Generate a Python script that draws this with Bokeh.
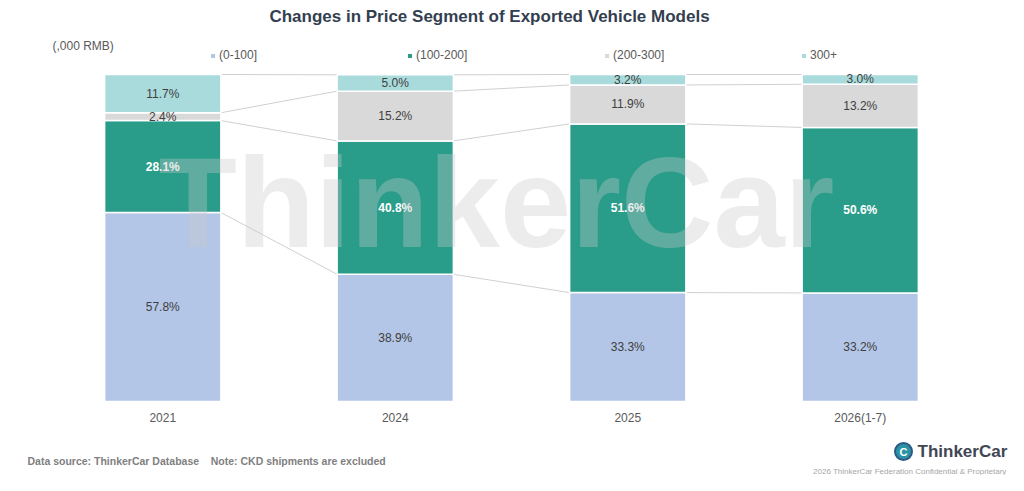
from bokeh.plotting import figure
from bokeh.models import ColumnDataSource, Range1d, FactorRange, Label
from bokeh.transform import dodge
from bokeh.core.properties import value
from bokeh.embed import file_html
from bokeh.resources import INLINE

# Données (part en %)
years = ["2021", "2024", "2025", "2026(1-7)"]
seg_0_100 = [57.8, 38.9, 33.3, 33.2]
seg_100_200 = [28.1, 40.8, 51.6, 50.6]
seg_200_300 = [2.4, 15.2, 11.9, 13.2]
seg_300 = [11.7, 5.0, 3.2, 3.0]
seg_names = ["(0-100]", "(100-200]", "(200-300]", "300+"]
colors = ["#b4c6e7", "#2a9d8a", "#d9d9d9", "#a9dbdc"]

FONT = "Liberation Sans"
W, H = 1008, 475
LEFT = 14
PAD = 0.1376
UNIT = (W - LEFT) / (4 + 2 * PAD)
PXY = 3.27  # pixels par point de %


# conversion pixel -> coordonnées
def X(px):
    return -PAD + (px - LEFT) / UNIT


def Y(py):
    return 100 - (py - 74) / PXY


keys = ["s0", "s1", "s2", "s3"]
series = [seg_0_100, seg_100_200, seg_200_300, seg_300]
source = ColumnDataSource(data=dict(year=years, s0=seg_0_100, s1=seg_100_200,
                                    s2=seg_200_300, s3=seg_300))

p = figure(x_range=FactorRange(*years, range_padding=PAD, range_padding_units="absolute"),
           y_range=Range1d(Y(H), Y(0)), width=W, height=H,
           x_axis_location=None, y_axis_location=None,
           output_backend="svg", toolbar_location=None,
           min_border_left=LEFT, min_border_right=0, min_border_top=0, min_border_bottom=0)
p.outline_line_color = None
p.grid.grid_line_color = None

# lignes de liaison entre les barres
cum = []
run = [0.0] * len(years)
for s in series:
    run = [a + b for a, b in zip(run, s)]
    cum.append(run)
seg_x0, seg_x1, seg_y0, seg_y1 = [], [], [], []
for c in cum:
    for i in range(len(years) - 1):
        seg_x0.append(years[i])
        seg_x1.append(years[i + 1])
        seg_y0.append(c[i])
        seg_y1.append(c[i + 1])
links = ColumnDataSource(data=dict(x0=seg_x0, x1=seg_x1, y0=seg_y0, y1=seg_y1))
p.segment(x0=dodge("x0", 0.25, range=p.x_range), y0="y0",
          x1=dodge("x1", -0.25, range=p.x_range), y1="y1",
          source=links, line_color="#d0d0d0", line_width=1)

p.vbar_stack(keys, x="year", width=0.5, color=colors, source=source,
             line_color="white", line_width=1.5, legend_label=seg_names)

# étiquettes des segments
lx, ly, lt, wx, wy, wt = [], [], [], [], [], []
base = [0.0] * len(years)
for k, s in enumerate(series):
    for i, v in enumerate(s):
        mid = base[i] + v / 2
        if k == 1:
            wx.append(years[i]); wy.append(mid); wt.append(f"{v:.1f}%")
        else:
            lx.append(years[i]); ly.append(mid); lt.append(f"{v:.1f}%")
    base = [a + b for a, b in zip(base, s)]
p.text(x=lx, y=ly, text=lt, text_align="center", text_baseline="middle",
       text_font=value(FONT), text_font_size="12px", text_color="#404040")
p.text(x=wx, y=wy, text=wt, text_align="center", text_baseline="middle",
       text_font=value(FONT), text_font_size="12px", text_font_style="bold",
       text_color="white")

# libellés des années
p.text(x=years, y=[Y(417)] * len(years), text=years, text_align="center",
       text_baseline="middle", text_font=value(FONT), text_font_size="12px",
       text_color="#595959")

# légende
lg = p.legend[0]
lg.orientation = "horizontal"
lg.location = (209 - LEFT, H - 55 - 7)
lg.padding = 0
lg.margin = 0
lg.spacing = 4
lg.border_line_color = None
lg.background_fill_alpha = 0
lg.glyph_width = 7
lg.glyph_height = 7
lg.label_height = 14
lg.label_standoff = 3
lg.label_width = 183
lg.label_text_font = FONT
lg.label_text_font_size = "12px"
lg.label_text_color = "#595959"


def label(px, py, text, size, color, style="normal", align="left", alpha=1.0):
    p.add_layout(Label(x=X(px), y=Y(py), text=text, text_align=align,
                       text_baseline="middle", text_font=FONT, text_font_size=size,
                       text_font_style=style, text_color=color, text_alpha=alpha))


# filigrane
label(496, 202, "ThinkerCar", "128px", "#c8c8c8", "bold", "center", 0.35)

# titre et textes
label(489, 16, "Changes in Price Segment of Exported Vehicle Models", "17px", "#333f50",
      "bold", "center")
label(52, 45, "(,000 RMB)", "12px", "#595959")
label(27, 460, "Data source: ThinkerCar Database\u00a0\u00a0\u00a0\u00a0Note: CKD shipments are excluded",
      "10.5px", "#7f7f7f", "bold")

# logo
p.scatter(x=[X(903)], y=[Y(451)], size=17, marker="circle", fill_color="#2b93a3",
          line_color="#2c5a86", line_width=2)
p.text(x=[X(903)], y=[Y(451)], text=["C"], text_align="center", text_baseline="middle",
       text_font=value(FONT), text_font_size="11px", text_font_style="bold",
       text_color="white")
label(917, 451, "ThinkerCar", "17px", "#3f4654", "bold")
label(1006, 471, "2026 ThinkerCar Federation Confidential & Proprietary", "8px",
      "#a6a6a6", "normal", "right")

open("out.html", "w").write(file_html(p, INLINE))
